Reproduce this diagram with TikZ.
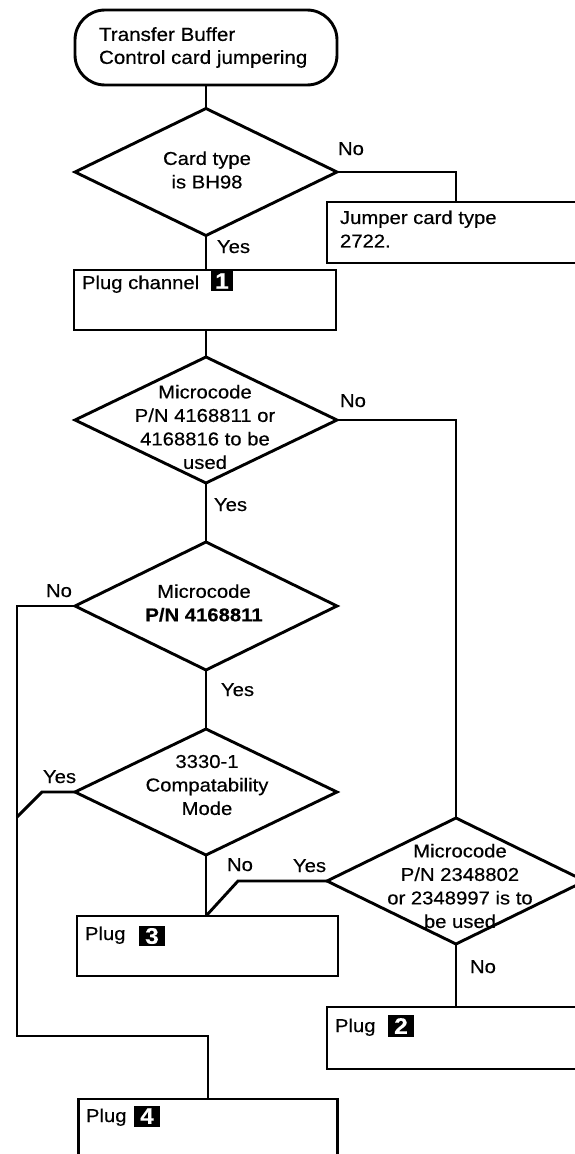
\documentclass[tikz,border=0pt]{standalone}
\usepackage{fontspec}
\setmainfont{Liberation Sans}[FakeStretch=1.09, FakeBold=0.4]
\usetikzlibrary{shapes.geometric}

\begin{document}
\begin{tikzpicture}[x=1pt,y=-1pt,
  every node/.style={inner sep=0pt, outer sep=0pt},
  decision/.style={draw, line width=2.9pt, diamond, minimum width=262pt, minimum height=127pt},
  stepbox/.style={draw, line width=2.9pt, rectangle},
  terminal/.style={draw, line width=2.9pt, rectangle, rounded corners=30pt,
                   minimum width=262pt, minimum height=75pt},
  txt/.style={font=\fontsize{18.6}{23.5}\selectfont, align=center},
  lbl/.style={font=\fontsize{18.6}{23.5}\selectfont, anchor=base west},
  badge/.style={fill=black, text=white, font=\fontsize{22.5}{22.5}\selectfont\bfseries},
  link/.style={line width=2.9pt, line join=miter}]

% page area
\useasboundingbox (0,0) rectangle (575,1154);
\fill[white] (0,0) rectangle (575,1154);
\clip (0,0) rectangle (575,1154);

% ---- shapes ----
\node[terminal] (start) at (206,47.5) {};
\node[txt, align=left, anchor=west, font=\fontsize{18.9}{23}\selectfont] (starttext) at (99,47.5)
  {Transfer Buffer\\Control card jumpering};

\node[decision] (d1) at (206,172) {};
\node[txt] (d1text) at (207,170) {Card type\\is BH98};

\node[stepbox, minimum width=258pt, minimum height=61pt] (jumper) at (456,232.5) {};
\node[txt, align=left, anchor=west] (jumpertext) at (340,229) {Jumper card type\\2722.};

\node[stepbox, minimum width=262pt, minimum height=60pt] (pc) at (205,300) {};
\node[lbl] (pctext) at (82,289) {Plug channel};
\node[badge, minimum width=22pt, minimum height=20pt] (b1) at (222,281) {1};

\node[decision, minimum height=126pt] (d2) at (206,420) {};
\node[txt] (d2text) at (205,427) {Microcode\\P/N 4168811 or\\4168816 to be\\used};

\node[decision, minimum height=128pt] (d3) at (206,606) {};
\node[txt] (d3text) at (204,603) {Microcode\\\textbf{P/N 4168811}};

\node[decision, minimum height=126pt] (d4) at (206,792) {};
\node[txt] (d4text) at (207,785) {3330-1\\Compatability\\Mode};

\node[decision, minimum width=258pt, minimum height=126pt] (d5) at (456,881) {};
\node[txt] (d5text) at (460,886) {Microcode\\P/N 2348802\\or 2348997 is to\\be used};

\node[stepbox, minimum width=261pt, minimum height=60pt] (plug3) at (207.5,946) {};
\node[lbl] (plug3text) at (85,940) {Plug};
\node[badge, minimum width=26pt, minimum height=20pt] (b3) at (152,936) {3};

\node[stepbox, minimum width=258pt, minimum height=62pt] (plug2) at (456,1038) {};
\node[lbl] (plug2text) at (335,1032) {Plug};
\node[badge, minimum width=26pt, minimum height=22pt] (b2) at (401,1026) {2};

\node[stepbox, minimum width=259pt, minimum height=70pt] (plug4) at (208,1134) {};
\node[lbl] (plug4text) at (86,1122) {Plug};
\node[badge, minimum width=26pt, minimum height=21pt] (b4) at (147,1116) {4};

% ---- branch labels ----
\node[lbl] (d1no)  at (338,155) {No};
\node[lbl] (d1yes) at (217,253) {Yes};
\node[lbl] (d2no)  at (340,407) {No};
\node[lbl] (d2yes) at (214,511) {Yes};
\node[lbl] (d3no)  at (46,597)  {No};
\node[lbl] (d3yes) at (221,696) {Yes};
\node[lbl] (d4yes) at (43,783)  {Yes};
\node[lbl] (d4no)  at (227,871) {No};
\node[lbl] (d5yes) at (293,872) {Yes};
\node[lbl] (d5no)  at (470,973) {No};

% ---- bend points ----
\coordinate (loopturn) at (17,1036);
\coordinate (ybend) at (42,792);
\coordinate (yjoin) at (17,817);
\coordinate (y5bend) at (238,881);

% ---- connectors ----
\draw[link] (start.south) -- (d1.north);
\draw[link] (d1.east) -| (jumper.north);
\draw[link] (d1.south) -- (d1.south |- pc.north);
\draw[link] (d2.north |- pc.south) -- (d2.north);
\draw[link] (d2.east) -| (d5.north);
\draw[link] (d2.south) -- (d3.north);
\draw[link] (d3.west) -| (loopturn) -| (plug4.north);
\draw[link] (d3.south) -- (d4.north);
\draw[link] (d4.west) -- (ybend) -- (yjoin);
\draw[link] (d4.south) -- (d4.south |- plug3.north);
\draw[link] (d5.west) -- (y5bend) -- (d4.south |- plug3.north);
\draw[link] (d5.south) -- (plug2.north);
\end{tikzpicture}
\end{document}
